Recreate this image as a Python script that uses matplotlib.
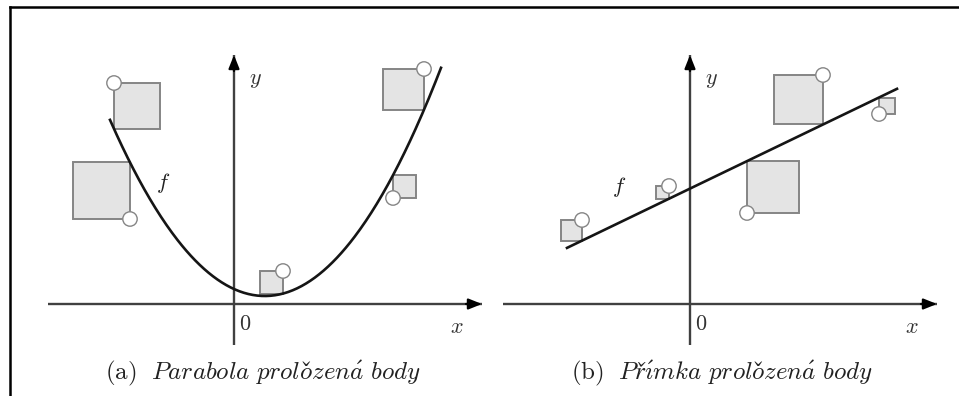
import numpy as np
import matplotlib
matplotlib.use("Agg")
import matplotlib.pyplot as plt
from matplotlib.patches import Rectangle, Circle

plt.rcParams['mathtext.fontset'] = 'cm'

# panel (a): points and fitted parabola f(x) = a*(x - xv)^2 + yv
pts_a_x = [-6.0, -5.2, 2.45, 9.5, 7.95]
pts_a_y = [11.05, 4.25, 1.65, 11.75, 5.3]
sq_side_a = [1, -1, -1, -1, 1]   # which side of the point the square sits on
par_a, par_xv, par_yv = 0.147, 1.54, 0.4
curve_a_range = (-6.2, 10.35)

# panel (b): points and fitted line f(x) = k*x + q
pts_b_x = [-5.4, -1.05, 6.65, 2.85, 9.45]
pts_b_y = [4.2, 5.9, 11.45, 4.55, 9.5]
sq_side_b = [-1, -1, -1, 1, 1]
line_k, line_q = 0.482, 5.77
curve_b_range = (-6.15, 10.35)

captions = [r"$\mathrm{(a)}\ \ \mathit{Parabola\ prolo\check{z}en\acute{a}\ body}$",
            r"$\mathrm{(b)}\ \ \mathit{Př\acute{\imath}mka\ prolo\check{z}en\acute{a}\ body}$"]

W, H = 959, 396
PX = 20.0  # pixels per unit


def f_a(x):
    return par_a * (np.asarray(x) - par_xv) ** 2 + par_yv


def f_b(x):
    return line_k * np.asarray(x) + line_q


def make_axes(fig, ox, oy, xlim, ylim):
    # place axes so that data origin sits at pixel (ox, oy) and 1 unit = PX pixels
    left = (ox + xlim[0] * PX) / W
    width = (xlim[1] - xlim[0]) * PX / W
    bottom = (H - oy + ylim[0] * PX) / H
    height = (ylim[1] - ylim[0]) * PX / H
    ax = fig.add_axes([left, bottom, width, height])
    ax.set_xlim(*xlim)
    ax.set_ylim(*ylim)
    ax.axis('off')
    return ax


def draw_panel(ax, xs, ys, sides, f, xr, xaxis, yaxis, f_pos):
    axcol = '#404040'
    arrow = dict(arrowstyle='-|>,head_length=0.4,head_width=0.16', color='black',
                 lw=1.6, shrinkA=0, shrinkB=0, mutation_scale=20)
    ax.plot(xaxis, [0, 0], color=axcol, lw=1.7, zorder=1, solid_capstyle='butt')
    ax.annotate('', xy=(xaxis[1], 0), xytext=(xaxis[1] - 0.8, 0),
                arrowprops=arrow, zorder=2)
    ax.plot([0, 0], yaxis, color=axcol, lw=1.7, zorder=1, solid_capstyle='butt')
    ax.annotate('', xy=(0, yaxis[1]), xytext=(0, yaxis[1] - 0.8),
                arrowprops=arrow, zorder=2)

    for x, y, s in zip(xs, ys, sides):
        fy = float(f(x))
        side = abs(y - fy)
        x0 = x if s > 0 else x - side
        ax.add_patch(Rectangle((x0, min(y, fy)), side, side, facecolor='#e4e4e4',
                               edgecolor='#858585', lw=1.4, zorder=3))

    cx = np.linspace(xr[0], xr[1], 300)
    ax.plot(cx, f(cx), color='#151515', lw=1.9, zorder=4)

    for x, y in zip(xs, ys):
        ax.add_patch(Circle((x, y), 0.36, facecolor='white', edgecolor='#858585',
                            lw=1.0, zorder=5))

    ax.text(1.05, 11.2, r'$y$', fontsize=16, color='#333333', ha='center', va='center')
    ax.text(xaxis[1] - 1.25, -1.15, r'$x$', fontsize=16, color='#333333', ha='center', va='center')
    ax.text(0.55, -1.0, r'$0$', fontsize=16, color='#333333', ha='center', va='center')
    ax.text(f_pos[0], f_pos[1], r'$f$', fontsize=16, color='#222222', ha='center', va='center')


fig = plt.figure(figsize=(W / 100, H / 100), dpi=100)

ax_a = make_axes(fig, 234, 304, (-11.0, 12.6), (-4.5, 14.5))
draw_panel(ax_a, pts_a_x, pts_a_y, sq_side_a, f_a, curve_a_range,
           (-9.3, 12.4), (-2.05, 12.45), (-3.55, 6.05))

ax_b = make_axes(fig, 690, 304, (-9.5, 12.7), (-4.5, 14.5))
draw_panel(ax_b, pts_b_x, pts_b_y, sq_side_b, f_b, curve_b_range,
           (-9.35, 12.35), (-2.05, 12.45), (-3.55, 5.85))

fig.text(263 / W, 1 - 373 / H, captions[0], fontsize=18, ha='center', va='center', color='#222222')
fig.text(722 / W, 1 - 373 / H, captions[1], fontsize=18, ha='center', va='center', color='#222222')

# frame around the figure (open at right and bottom as in the source)
fig.add_artist(plt.Line2D([10 / W, 10 / W], [0, 1 - 7 / H], color='black', lw=1.8))
fig.add_artist(plt.Line2D([10 / W, 1], [1 - 7 / H, 1 - 7 / H], color='black', lw=1.8))

fig.savefig('out.png', dpi=100)
